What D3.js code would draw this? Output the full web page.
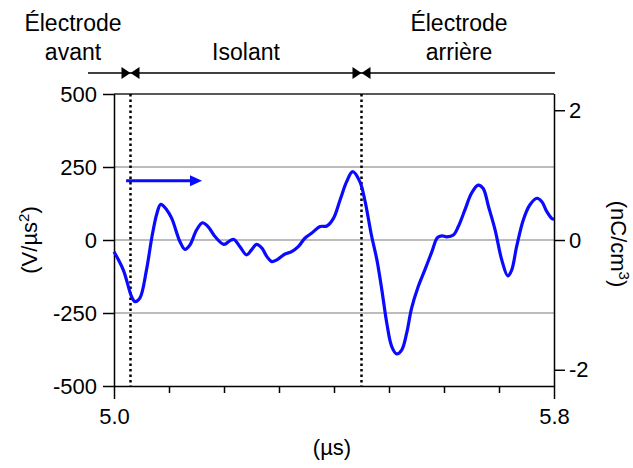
<!DOCTYPE html>
<html><head><meta charset="utf-8">
<script src="https://cdn.jsdelivr.net/npm/d3@7"></script>
<style>
html,body{margin:0;padding:0;background:#fff;}
text{font-family:"Liberation Sans",Arial,Helvetica,sans-serif;fill:#000;}
</style></head>
<body>
<svg id="chart" width="633" height="468"></svg>
<script>
// ---- data ----
const time = [5.000,5.017,5.032,5.038,5.047,5.059,5.069,5.078,5.085,5.096,5.105,5.120,5.129,5.138,5.150,5.161,5.171,5.184,5.200,5.211,5.218,5.229,5.241,5.250,5.259,5.269,5.278,5.287,5.296,5.311,5.323,5.335,5.347,5.359,5.375,5.387,5.399,5.411,5.423,5.434,5.447,5.456,5.468,5.478,5.487,5.496,5.505,5.514,5.523,5.532,5.541,5.553,5.565,5.578,5.588,5.596,5.605,5.617,5.626,5.638,5.650,5.662,5.671,5.681,5.693,5.705,5.716,5.723,5.732,5.744,5.756,5.769,5.778,5.787,5.796,5.800];
const signal = [-40,-103,-194,-211,-199,-103,11,91,122,103,74,-6,-32,-17,34,59,46,11,-15,-2,2,-23,-51,-34,-15,-28,-57,-74,-68,-48,-40,-23,6,23,46,48,74,137,200,234,200,137,17,-68,-171,-285,-365,-390,-377,-320,-234,-160,-103,-40,8,14,11,17,46,103,160,188,177,114,34,-68,-123,-103,-23,68,120,143,131,97,74,71];
const leftTicks = [500,250,0,-250,-500];
const gridValues = [250,0,-250];
const rightTicks = [2,0,-2];
const xTicks = [5.0,5.1,5.2,5.3,5.4,5.5,5.6,5.7,5.8];
const xLabeled = [5.0,5.8];
const boundaries = [5.03,5.45];
const arrowSpan = [5.022,5.160];
const arrowLevel = 203;

// ---- layout ----
const svg = d3.select("#chart");
const L = 114, R = 554, T = 94, B = 386;
const fs = 22;
const x = d3.scaleLinear().domain([5.0,5.8]).range([L,R]);
const y = d3.scaleLinear().domain([-500,500]).range([B,T]);
const y2 = d3.scaleLinear().domain([-2.25,2.25]).range([B,T]);

// grid
svg.append("g").selectAll("line").data(gridValues).join("line")
  .attr("x1",L).attr("x2",R).attr("y1",d=>y(d)).attr("y2",d=>y(d))
  .attr("stroke","#a6a6a6").attr("stroke-width",1.5);

// frame top
svg.append("line").attr("x1",L).attr("x2",R).attr("y1",T).attr("y2",T).attr("stroke","#222").attr("stroke-width",1.5);

// boundaries dotted
svg.append("g").selectAll("line").data(boundaries).join("line")
  .attr("x1",d=>x(d)).attr("x2",d=>x(d)).attr("y1",T).attr("y2",B)
  .attr("stroke","#000").attr("stroke-width",2.5).attr("stroke-dasharray","2.5,3");

// left axis
const gl = svg.append("g").attr("transform",`translate(${L},0)`)
  .call(d3.axisLeft(y).tickValues(leftTicks).tickSize(11).tickPadding(6).tickFormat(d=>String(d)));
// right axis
const gr = svg.append("g").attr("transform",`translate(${R},0)`)
  .call(d3.axisRight(y2).tickValues(rightTicks).tickSize(11).tickPadding(4).tickFormat(d=>String(d)));
// bottom axis
const gb = svg.append("g").attr("transform",`translate(0,${B})`)
  .call(d3.axisBottom(x).tickValues(xTicks).tickSize(7).tickPadding(4)
    .tickFormat(d=> xLabeled.some(v=>Math.abs(v-d)<1e-9) ? d3.format(".1f")(d) : ""));
gb.selectAll(".tick").filter(d=>xLabeled.some(v=>Math.abs(v-d)<1e-9)).select("line").attr("y2",13);
gb.selectAll(".tick text").attr("dy","0.71em").attr("y",22);

[gl,gr,gb].forEach(g=>{
  g.select(".domain").attr("stroke","#000").attr("stroke-width",1.5);
  g.selectAll(".tick line").attr("stroke","#000").attr("stroke-width",1.5);
  g.selectAll(".tick text").attr("font-size",fs).attr("font-family","Liberation Sans, Arial, sans-serif").attr("fill","#000");
});
gl.select(".domain").attr("d",`M0.5,${T}V${B}`);
gr.select(".domain").attr("d",`M0.5,${T}V${B}`);
gb.select(".domain").attr("d",`M${L},0.5H${R}`);

// curve
const line = d3.line().x((d,i)=>x(time[i])).y(d=>y(d)).curve(d3.curveCatmullRom.alpha(0.5));
svg.append("path").datum(signal).attr("d",line)
  .attr("fill","none").attr("stroke","#0a0aff").attr("stroke-width",3.2).attr("stroke-linejoin","round");

// blue arrow
const ax1 = x(arrowSpan[0]), ax2 = x(arrowSpan[1]), ay = y(arrowLevel);
svg.append("line").attr("x1",ax1).attr("x2",ax2-10).attr("y1",ay).attr("y2",ay)
  .attr("stroke","#0a0aff").attr("stroke-width",3);
svg.append("path").attr("d",`M${ax2},${ay}L${ax2-12},${ay-5.5}L${ax2-12},${ay+5.5}Z`).attr("fill","#0a0aff");

// top region bar
const barY = 73;
svg.append("line").attr("x1",88).attr("x2",555).attr("y1",barY).attr("y2",barY).attr("stroke","#000").attr("stroke-width",1.5);
boundaries.forEach(b=>{
  const cx = x(b);
  svg.append("path").attr("d",`M${cx-9},${barY-6}L${cx},${barY}L${cx-9},${barY+6}Z`).attr("fill","#000");
  svg.append("path").attr("d",`M${cx+9},${barY-6}L${cx},${barY}L${cx+9},${barY+6}Z`).attr("fill","#000");
});

// region labels
const regionLabels = [
  {lines:["Électrode","avant"], cx:73},
  {lines:["","Isolant"], cx:246},
  {lines:["Électrode","arrière"], cx:459}
];
regionLabels.forEach(r=>{
  r.lines.forEach((t,i)=>{
    if(!t) return;
    svg.append("text").attr("x",r.cx).attr("y",31+i*29).attr("text-anchor","middle").attr("font-size",23).text(t);
  });
});

// axis titles
const yl = svg.append("text").attr("transform","translate(37,240) rotate(-90)").attr("text-anchor","middle").attr("font-size",fs);
yl.append("tspan").text("(V/µs");
yl.append("tspan").attr("font-size",15).attr("dy",-8).text("2");
yl.append("tspan").attr("dy",8).text(")");

const yr = svg.append("text").attr("transform","translate(611,244) rotate(90)").attr("text-anchor","middle").attr("font-size",fs);
yr.append("tspan").text("(nC/cm");
yr.append("tspan").attr("font-size",15).attr("dy",-8).text("3");
yr.append("tspan").attr("dy",8).text(")");

svg.append("text").attr("x",332).attr("y",455).attr("text-anchor","middle").attr("font-size",fs).text("(µs)");
</script>
</body></html>
